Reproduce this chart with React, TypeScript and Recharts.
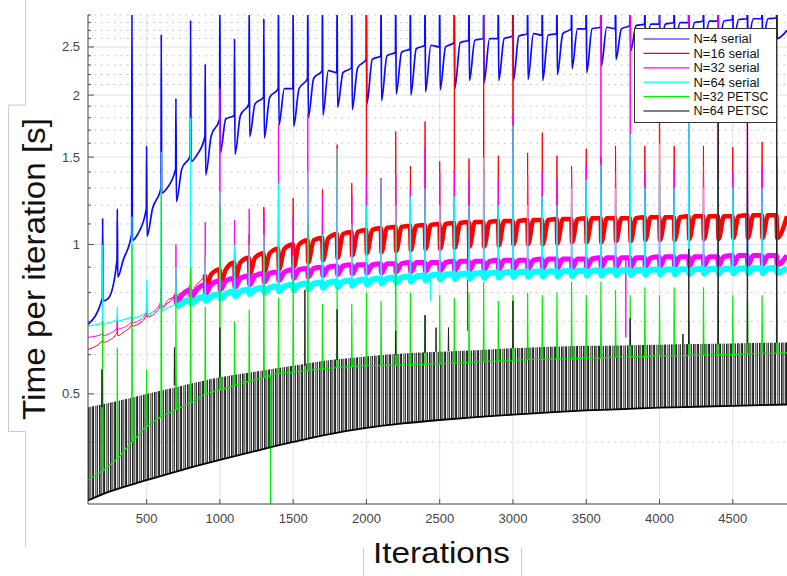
import { Area, CartesianGrid, ComposedChart, Line, XAxis, YAxis } from "recharts";

// iterations where the serial runs and PETSC runs show their periodic spikes
const spikeIters = [
  200, 300, 400, 500, 600, 700, 800,
  900, 1000, 1100, 1200, 1300, 1400, 1500, 1600, 1700,
  1800, 1900, 2000, 2100, 2200, 2300, 2400, 2500,
  2600, 2700, 2800, 2900, 3000, 3100, 3200, 3300,
  3400, 3500, 3600, 3700, 3800, 3900, 4000, 4100,
  4200, 4300, 4400, 4500, 4600, 4700, 4800,
];

// N=4 serial
const blueStart = 0.69;
const blueEnd = 2.7;
const blueTop = [
  1.13, 1.18, 3.2, 1.58, 2.65, 1.97, 2.83,
  2.31, 3.2, 2.6, 3.2, 2.85, 3.2, 3.2, 3.2, 3.2,
  3.2, 3.2, 3.2, 3.2, 3.2, 3.2, 3.2, 3.2,
  3.2, 3.2, 3.2, 3.2, 3.2, 3.2, 3.2, 3.2,
  3.2, 3.2, 3.2, 3.2, 3.2, 3.2, 3.2, 3.2,
  3.2, 3.2, 3.2, 3.2, 3.2, 3.2, 3.2,
];
const bluePre = [
  0.78, 0.93, 1.05, 1.18, 1.3, 1.42, 1.51,
  1.65, 1.79, 1.82, 1.92, 1.98, 2.06, 2.06, 2.16, 2.24,
  2.22, 2.27, 2.36, 2.4, 2.44, 2.48, 2.52, 2.5,
  2.55, 2.58, 2.6, 2.6, 2.63, 2.66, 2.64, 2.66,
  2.72, 2.72, 2.74, 2.72, 2.76, 2.78, 2.78, 2.8,
  2.8, 2.82, 2.82, 2.84, 2.85, 2.85, 2.86,
];
const blueDip = [
  0.77, 0.86, 1.02, 1.04, 1.27, 1.22, 1.47,
  1.38, 1.53, 1.52, 1.65, 1.64, 1.74, 1.73, 1.8, 1.82,
  1.89, 1.87, 1.92, 1.95, 2.01, 2.0, 2.03, 2.05,
  2.06, 2.14, 2.12, 2.14, 2.14, 2.15, 2.14, 2.2,
  2.26, 2.22, 2.29, 2.36, 2.45, 2.45, 2.48, 2.5,
  2.5, 2.52, 2.52, 2.55, 2.55, 2.56, 2.6,
];

// N=16 serial
const redStart = 0.615;
const redEnd = 1.14;
const redTop = [
  0.66, 0.7, 0.72, 0.76, 0.82, 0.86, 0.9,
  0.95, 1.0, 1.0, 1.05, 1.19, 1.1, 1.24, 1.15, 1.29,
  1.59, 1.33, 3.2, 1.36, 1.69, 1.44, 1.77, 1.47,
  3.2, 1.49, 3.2, 1.51, 3.2, 1.53, 1.68, 1.51,
  1.44, 1.56, 1.5, 1.58, 1.5, 1.58, 3.2, 1.58,
  1.5, 1.58, 1.5, 1.57, 1.5, 1.61, 1.5,
];
const redPre = [
  0.64, 0.665, 0.69, 0.72, 0.76, 0.8, 0.83,
  0.87, 0.89, 0.92, 0.94, 0.96, 0.98, 1.0, 1.02, 1.03,
  1.05, 1.06, 1.07, 1.08, 1.085, 1.09, 1.095, 1.1,
  1.105, 1.11, 1.11, 1.115, 1.115, 1.12, 1.12, 1.125,
  1.125, 1.13, 1.13, 1.13, 1.13, 1.135, 1.135, 1.135,
  1.14, 1.14, 1.14, 1.14, 1.145, 1.145, 1.145,
];
const redDip = [
  0.635, 0.655, 0.685, 0.715, 0.75, 0.79, 0.8,
  0.81, 0.83, 0.85, 0.87, 0.88, 0.89, 0.9, 0.92, 0.93,
  0.94, 0.95, 0.96, 0.965, 0.97, 0.975, 0.98, 0.98,
  0.985, 0.99, 0.99, 0.995, 1.0, 1.0, 1.0, 1.005,
  1.01, 1.01, 1.01, 1.015, 1.015, 1.02, 1.02, 1.02,
  1.025, 1.025, 1.025, 1.03, 1.03, 1.03, 1.03,
];
const redDropIter = [2690];
const redDropBase = [1.1];
const redDropLow = [0.67];

// N=32 serial
const magentaStart = 0.65;
const magentaEnd = 0.95;
const magentaTop = [
  0.7, 0.72, 0.78, 0.8, 0.82, 1.0, 0.9,
  1.11, 2.06, 1.12, 1.18, 1.17, 1.75, 1.15, 1.84, 1.25,
  1.3, 1.26, 1.37, 1.33, 1.39, 1.3, 1.57, 1.4,
  1.4, 1.35, 1.4, 1.35, 1.84, 1.38, 1.4, 1.35,
  1.4, 1.45, 3.2, 1.4, 3.2, 1.4, 1.42, 1.42,
  3.2, 1.44, 3.2, 1.4, 3.2, 1.44, 1.45,
];
const magentaPre = [
  0.66, 0.68, 0.7, 0.73, 0.77, 0.79, 0.81,
  0.83, 0.845, 0.855, 0.865, 0.875, 0.88, 0.89, 0.895, 0.9,
  0.905, 0.91, 0.91, 0.915, 0.915, 0.92, 0.92, 0.92,
  0.925, 0.925, 0.925, 0.93, 0.93, 0.93, 0.935, 0.935,
  0.935, 0.935, 0.94, 0.94, 0.94, 0.94, 0.945, 0.945,
  0.945, 0.945, 0.945, 0.95, 0.95, 0.95, 0.95,
];
const magentaDip = [
  0.655, 0.675, 0.695, 0.72, 0.74, 0.76, 0.78,
  0.795, 0.81, 0.82, 0.83, 0.84, 0.845, 0.855, 0.86, 0.865,
  0.87, 0.872, 0.875, 0.877, 0.88, 0.88, 0.882, 0.885,
  0.885, 0.887, 0.89, 0.89, 0.892, 0.893, 0.895, 0.895,
  0.897, 0.898, 0.9, 0.9, 0.9, 0.902, 0.903, 0.904,
  0.905, 0.906, 0.907, 0.908, 0.909, 0.91, 0.91,
];
const magentaDropIter = [3770];
const magentaDropBase = [0.94];
const magentaDropLow = [0.65];

// N=64 serial
const cyanStart = 0.685;
const cyanEnd = 0.897;
const cyanTop = [
  1.0, 0.75, 1.14, 0.85, 1.54, 0.9, 1.8,
  0.95, 1.28, 1.0, 1.0, 1.05, 1.33, 0.95, 1.4, 1.05,
  1.56, 1.1, 1.2, 1.35, 1.2, 1.25, 1.3, 1.2,
  1.25, 1.2, 1.5, 1.2, 1.74, 1.2, 1.25, 1.2,
  1.3, 1.35, 1.45, 1.3, 1.67, 1.3, 1.6, 1.3,
  1.77, 1.3, 1.35, 1.3, 1.35, 1.3, 1.35,
];
const cyanPre = [
  0.695, 0.705, 0.715, 0.73, 0.745, 0.76, 0.775,
  0.785, 0.795, 0.805, 0.812, 0.818, 0.824, 0.83, 0.834, 0.838,
  0.842, 0.846, 0.85, 0.854, 0.858, 0.862, 0.866, 0.87,
  0.872, 0.874, 0.876, 0.878, 0.88, 0.881, 0.882, 0.883,
  0.884, 0.885, 0.886, 0.887, 0.888, 0.889, 0.89, 0.891,
  0.892, 0.893, 0.894, 0.895, 0.896, 0.896, 0.897,
];
const cyanDip = [
  0.69, 0.7, 0.71, 0.722, 0.735, 0.748, 0.76,
  0.77, 0.778, 0.787, 0.795, 0.8, 0.805, 0.81, 0.814, 0.818,
  0.822, 0.826, 0.83, 0.834, 0.838, 0.842, 0.846, 0.85,
  0.852, 0.854, 0.856, 0.858, 0.86, 0.861, 0.862, 0.863,
  0.864, 0.865, 0.866, 0.867, 0.868, 0.869, 0.87, 0.871,
  0.872, 0.873, 0.874, 0.875, 0.876, 0.876, 0.877,
];
const cyanDropIter = [2437];
const cyanDropBase = [0.866];
const cyanDropLow = [0.77];

// N=32 PETSC
const greenStart = 0.335;
const greenEnd = 0.605;
const greenBase = [
  0.35, 0.37, 0.4, 0.43, 0.45, 0.465, 0.48,
  0.5, 0.51, 0.52, 0.53, 0.54, 0.55, 0.553, 0.558, 0.562,
  0.565, 0.568, 0.57, 0.571, 0.572, 0.573, 0.574, 0.575,
  0.577, 0.579, 0.581, 0.583, 0.585, 0.586, 0.587, 0.588,
  0.589, 0.59, 0.591, 0.593, 0.594, 0.595, 0.597, 0.597,
  0.598, 0.599, 0.6, 0.6, 0.602, 0.603, 0.604,
];
const greenTop = [
  0.7, 0.62, 1.0, 0.56, 1.3, 0.8, 0.9,
  0.75, 1.2, 0.7, 0.74, 0.95, 0.78, 0.85, 1.1, 0.76,
  0.82, 0.76, 0.8, 0.77, 1.1, 0.8, 0.72, 0.79,
  0.78, 0.8, 0.84, 0.77, 0.79, 0.8, 0.79, 0.8,
  0.84, 0.79, 0.84, 0.81, 0.79, 0.82, 0.79, 0.82,
  0.7, 0.82, 0.79, 0.79, 0.77, 0.79, 0.78,
];
const greenDropIter = [1345];
const greenDropBase = [0.545];
const greenDropLow = [0.25];

// N=64 PETSC: lower edge and top of the dense spike band, plus the tall spikes
const blackEnvIters = [100, 250, 500, 750, 1000, 1250, 1500, 1750, 2000, 2250, 2500, 2750, 3000, 3250, 3500, 3750, 4000, 4250, 4500, 4870];
const blackLow = [0.305, 0.318, 0.335, 0.352, 0.368, 0.384, 0.4, 0.415, 0.427, 0.436, 0.443, 0.449, 0.454, 0.459, 0.463, 0.466, 0.469, 0.471, 0.473, 0.476];
const blackHigh = [0.47, 0.48, 0.5, 0.52, 0.54, 0.555, 0.57, 0.585, 0.595, 0.603, 0.608, 0.612, 0.618, 0.622, 0.625, 0.626, 0.628, 0.63, 0.632, 0.635];
const blackSpikeIters = [195, 690, 1000, 1580, 1800, 2200, 2400, 2475, 2560, 3000, 3800, 4160, 4200, 4400, 4600, 4800];
const blackSpikeBase = [0.47, 0.52, 0.54, 0.57, 0.585, 0.6, 0.605, 0.608, 0.61, 0.618, 0.626, 0.629, 0.63, 0.631, 0.633, 0.634];
const blackSpikeTop = [0.56, 0.62, 0.68, 0.81, 0.74, 0.67, 0.72, 0.68, 0.68, 0.77, 0.71, 0.66, 0.98, 1.79, 3.2, 3.2];

const xTicks = [500, 1000, 1500, 2000, 2500, 3000, 3500, 4000, 4500];
const yMajor = [0.5, 1, 1.5, 2, 2.5];
const yMinor = [0.4, 0.6, 0.7, 0.8, 0.9, 1.1, 1.2, 1.3, 1.4, 1.6, 1.7, 1.8, 1.9, 2.1, 2.2, 2.3, 2.4, 2.6, 2.7, 2.8, 2.9];
const yTickValues = [...yMinor, ...yMajor].sort((a, b) => a - b);

const legendLabels = ["N=4 serial", "N=16 serial", "N=32 serial", "N=64 serial", "N=32 PETSC", "N=64 PETSC"];

const COLORS = ["#0a0aff", "#ff0000", "#ff00ff", "#00ffff", "#00ee00", "#000000"];
const LEGEND_TEXT_W = [58, 66, 66, 66, 75, 75];
const FONT = "'Liberation Sans', Arial, Helvetica, sans-serif";
const X_MARGIN = 10;
const Y_MARGIN = 8;
const RECOVER = 40;

type Pt = { x: number; y: number | null };

function serialPoints(start: number, end: number, pre: number[], dip: number[], top: number[] | null, from = 0): Pt[] {
  const pts: Pt[] = [{ x: 100, y: start }];
  spikeIters.forEach((s, k) => {
    pts.push({ x: s - 2, y: pre[k] });
    if (top) pts.push({ x: s, y: top[k] });
    pts.push({ x: s + 3, y: dip[k] });
    if (k < spikeIters.length - 1) pts.push({ x: s + RECOVER, y: pre[k] });
  });
  pts.push({ x: 4870, y: end });
  return pts.filter((p) => p.x >= from);
}

function withDrops(pts: Pt[], iters: number[], base: number[], low: number[]): Pt[] {
  const out = pts.slice();
  iters.forEach((x, i) => {
    out.push({ x: x - 1, y: base[i] }, { x, y: low[i] }, { x: x + 1, y: base[i] });
  });
  return out.sort((a, b) => a.x - b.x);
}

const blueData = serialPoints(blueStart, blueEnd, bluePre, blueDip, blueTop);
const redThin = withDrops(serialPoints(redStart, redEnd, redPre, redDip, redTop), redDropIter, redDropBase, redDropLow);
const redThick = serialPoints(redStart, redEnd, redPre, redDip, null, 880);
const magentaThin = withDrops(
  serialPoints(magentaStart, magentaEnd, magentaPre, magentaDip, magentaTop),
  magentaDropIter, magentaDropBase, magentaDropLow
);
const magentaThick = serialPoints(magentaStart, magentaEnd, magentaPre, magentaDip, null, 680);
const cyanThin = withDrops(serialPoints(cyanStart, cyanEnd, cyanPre, cyanDip, cyanTop), cyanDropIter, cyanDropBase, cyanDropLow);
const cyanThick = serialPoints(cyanStart, cyanEnd, cyanPre, cyanDip, null, 700);

const greenData: Pt[] = (() => {
  const pts: Pt[] = [{ x: 100, y: greenStart }];
  spikeIters.forEach((s, k) => {
    pts.push({ x: s - 2, y: greenBase[k] }, { x: s, y: greenTop[k] }, { x: s + 3, y: greenBase[k] });
  });
  pts.push({ x: 4870, y: greenEnd });
  return withDrops(pts, greenDropIter, greenDropBase, greenDropLow);
})();

const blackBand = blackEnvIters.map((x, i) => ({ x, band: [blackLow[i], blackHigh[i]] }));
const blackLowLine = blackEnvIters.map((x, i) => ({ x, y: blackLow[i] }));
const blackSpikes: Pt[] = blackSpikeIters.flatMap((s, i) => [
  { x: s - 2, y: blackSpikeBase[i] },
  { x: s, y: blackSpikeTop[i] },
  { x: s + 2, y: blackSpikeBase[i] },
  { x: s + 3, y: null },
]);

function YTick(props: any) {
  const { x, y, payload } = props;
  const major = yMajor.includes(payload.value);
  const ax = x + Y_MARGIN;
  return (
    <g>
      <line x1={ax} x2={ax + (major ? 6 : 3)} y1={y} y2={y} stroke="#555" />
      {major && (
        <text x={x} y={y} dy={4.5} textAnchor="end" fontSize={13} fill="#444" fontFamily={FONT}>
          {payload.value}
        </text>
      )}
    </g>
  );
}

function XTick(props: any) {
  const { x, y, payload } = props;
  return (
    <g>
      <line x1={x} x2={x} y1={y - X_MARGIN} y2={y - X_MARGIN - 5} stroke="#555" />
      <text x={x} y={y} dy="0.71em" textAnchor="middle" fontSize={13} fill="#444" fontFamily={FONT}>
        {payload.value}
      </text>
    </g>
  );
}

const common = { dot: false, activeDot: false, isAnimationActive: false, dataKey: "y" };

export default function App() {
  return (
    <div style={{ position: "absolute", left: 0, top: 0, width: 787, height: 576, background: "#fff", overflow: "hidden" }}>
      <ComposedChart width={787} height={576} margin={{ top: 15, right: 0, bottom: 0, left: 0 }}>
        <defs>
          <pattern id="hatch" patternUnits="userSpaceOnUse" width="11" height="10">
            <rect x="0" y="0" width="1.6" height="10" fill="#000" />
            <rect x="2.3" y="0" width="1" height="10" fill="#111" />
            <rect x="4.1" y="0" width="2" height="10" fill="#000" />
            <rect x="7" y="0" width="0.8" height="10" fill="#333" />
            <rect x="8.6" y="0" width="1.3" height="10" fill="#000" />
          </pattern>
        </defs>
        <CartesianGrid horizontalValues={yMajor} verticalValues={xTicks} stroke="#e2e2e2" />
        <CartesianGrid horizontalValues={yMinor} vertical={false} stroke="#bdbdbd" strokeDasharray="1.5 5" />
        <XAxis
          type="number"
          dataKey="x"
          domain={[100, 4870]}
          allowDataOverflow
          ticks={xTicks}
          interval={0}
          tick={<XTick />}
          tickLine={false}
          tickSize={0}
          tickMargin={X_MARGIN}
          height={72}
          axisLine={{ stroke: "#444" }}
        />
        <YAxis
          type="number"
          scale="log"
          domain={[0.3, 2.9]}
          allowDataOverflow
          ticks={yTickValues}
          interval={0}
          tick={<YTick />}
          tickLine={false}
          tickSize={0}
          tickMargin={Y_MARGIN}
          width={88}
          axisLine={{ stroke: "#444" }}
        />
        <Line {...common} type="monotoneX" data={blueData} stroke={COLORS[0]} strokeWidth={1.7} />
        <Line {...common} type="monotoneX" data={redThin} stroke={COLORS[1]} strokeWidth={1} />
        <Line {...common} type="monotoneX" data={redThick} stroke={COLORS[1]} strokeWidth={4.5} />
        <Line {...common} type="monotoneX" data={magentaThin} stroke={COLORS[2]} strokeWidth={1} />
        <Line {...common} type="monotoneX" data={magentaThick} stroke={COLORS[2]} strokeWidth={5} />
        <Line {...common} type="monotoneX" data={cyanThin} stroke={COLORS[3]} strokeWidth={1.2} />
        <Line {...common} type="monotoneX" data={cyanThick} stroke={COLORS[3]} strokeWidth={6} />
        <Line {...common} type="linear" data={greenData} stroke={COLORS[4]} strokeWidth={1.2} />
        <Area data={blackBand} dataKey="band" type="monotoneX" stroke="none" fill="url(#hatch)" fillOpacity={0.85} isAnimationActive={false} activeDot={false} />
        <Line {...common} type="monotoneX" data={blackLowLine} stroke="#000" strokeWidth={1.8} />
        <Line {...common} type="linear" data={blackSpikes} stroke="#222" strokeWidth={1} />
      </ComposedChart>

      <svg width={787} height={576} style={{ position: "absolute", left: 0, top: 0, pointerEvents: "none" }}>
        <path d="M25.5 0 V105 H8.5 V431.5 H25.5 V547" fill="none" stroke="#cccccc" />
        <path d="M363.5 548 V576 M521.5 548 V576" fill="none" stroke="#cccccc" />
        <text
          x={45}
          y={269}
          transform="rotate(-90 45 269)"
          textAnchor="middle"
          fontSize={32}
          fontFamily={FONT}
          fill="#111"
          textLength={302}
          lengthAdjust="spacingAndGlyphs"
        >
          Time per iteration [s]
        </text>
        <text x={441.5} y={563} textAnchor="middle" fontSize={30} fontFamily={FONT} fill="#111" textLength={137} lengthAdjust="spacingAndGlyphs">
          Iterations
        </text>
        <g transform="translate(634.5 28.5)">
          <rect x={0} y={0} width={142} height={94} fill="#fff" stroke="#333" />
          {legendLabels.map((label, i) => (
            <g key={label} transform={`translate(0 ${10.5 + i * 14.4})`}>
              <line x1={9} x2={55} y1={0} y2={0} stroke={COLORS[i]} strokeWidth={1.2} />
              <text x={59} y={4.3} fontSize={12.5} fontFamily={FONT} fill="#111" textLength={LEGEND_TEXT_W[i]} lengthAdjust="spacingAndGlyphs">
                {label}
              </text>
            </g>
          ))}
        </g>
      </svg>
    </div>
  );
}
